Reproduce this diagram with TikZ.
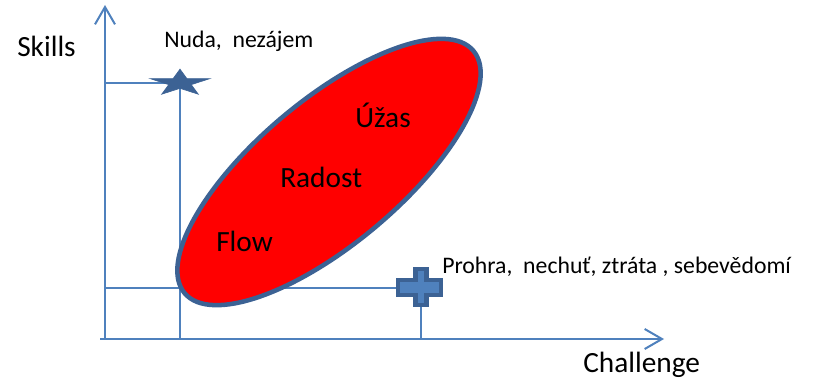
\documentclass[tikz,border=0pt]{standalone}
\usepackage{fontspec}
\setmainfont{Carlito}
\usetikzlibrary{arrows.meta}
\definecolor{axisblue}{HTML}{4F81BD}
\definecolor{edgeblue}{HTML}{3C6294}

\begin{document}
\begin{tikzpicture}[x=0.75pt,y=-0.75pt,
   axis/.style={draw=axisblue,line width=1.5pt,-{Straight Barb[length=13pt,width=15pt]}},
   guide/.style={draw=axisblue,line width=1.3pt},
   big/.style={font=\fontsize{22}{26}\selectfont,anchor=base west,inner sep=0pt},
   small/.style={font=\fontsize{17.8}{21}\selectfont,anchor=base west,inner sep=0pt}]
\useasboundingbox[fill=white] (0,0) rectangle (813,378);
\coordinate (O) at (105,339);
\coordinate (Y) at (105,5);
\coordinate (X) at (664,339);
\coordinate (nuda) at (180,83);
\coordinate (prohra) at (421,288);
% guide lines
\draw[guide] (O |- nuda) -- (nuda) -- (nuda |- O);
\draw[guide] (O |- prohra) -- (prohra) -- (prohra |- O);
% axes
\draw[axis] ([xshift=-3.75pt]O) -- (X);
\draw[axis] (O) -- (Y);
% flow ellipse
\draw[draw=edgeblue,fill=red,line width=3.4pt,rotate around={40:(329,172)}]
     (329,172) ellipse [x radius=188.5, y radius=72];
% star
\begin{scope}[shift={(nuda)}]
 \filldraw[fill=edgeblue,draw=edgeblue,line width=0.5pt] (-90:31 and 13.8)
   \foreach \k in {0,...,4} { -- ({-54+72*\k}:11.8 and 5.3) -- ({-18+72*\k}:31 and 13.8) } -- cycle;
\end{scope}
% cross
\begin{scope}[shift={(prohra)}]
 \filldraw[fill=axisblue,draw=edgeblue,line width=3.5pt]
   (-5.5,-19) -- (5.5,-19) -- (5.5,-8) -- (20,-8) -- (20,7) -- (5.5,7) -- (5.5,17)
   -- (-5.5,17) -- (-5.5,7) -- (-23,7) -- (-23,-8) -- (-5.5,-8) -- cycle;
\end{scope}
% labels
\node[big] (skills) at (17,56) {Skills};
\node[big] (challenge) at (583,372) {Challenge};
\node[small] (nudaText) at (164,48) {Nuda,\ \ nezájem};
\node[small] (prohraText) at (442,273) {Prohra,\ \ nechuť, ztráta , sebevědomí};
\node[big] (flow) at (216,251) {Flow};
\node[big] (radost) at (280,187) {Radost};
\node[big] (uzas) at (355,127) {Úžas};
\end{tikzpicture}
\end{document}
